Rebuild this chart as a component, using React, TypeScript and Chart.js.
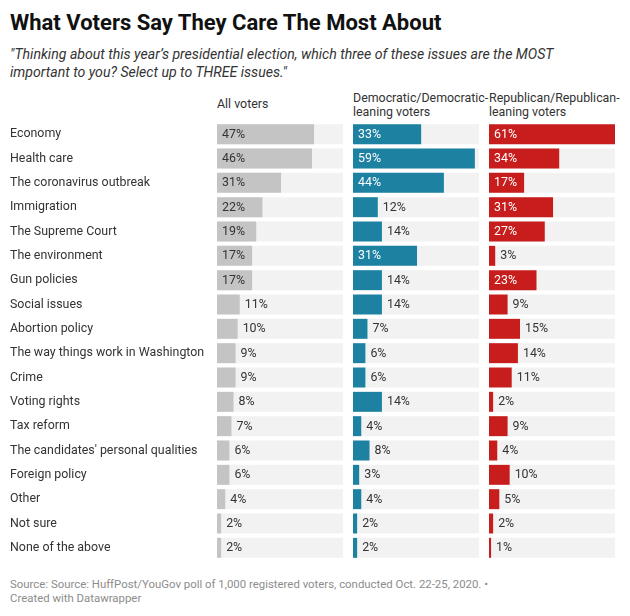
import React, { useEffect, useRef } from "react";
import { Chart, registerables } from "chart.js";

Chart.register(...registerables);

const categories = [
  "Economy",
  "Health care",
  "The coronavirus outbreak",
  "Immigration",
  "The Supreme Court",
  "The environment",
  "Gun policies",
  "Social issues",
  "Abortion policy",
  "The way things work in Washington",
  "Crime",
  "Voting rights",
  "Tax reform",
  "The candidates' personal qualities",
  "Foreign policy",
  "Other",
  "Not sure",
  "None of the above",
];

const allVoters = [47, 46, 31, 22, 19, 17, 17, 11, 10, 9, 9, 8, 7, 6, 6, 4, 2, 2];
const democratic = [33, 59, 44, 12, 14, 31, 14, 14, 7, 6, 6, 14, 4, 8, 3, 4, 2, 2];
const republican = [61, 34, 17, 31, 27, 3, 23, 9, 15, 14, 11, 2, 9, 4, 10, 5, 2, 1];

const columnTitles = [
  ["All voters"],
  ["Democratic/Democratic-", "leaning voters"],
  ["Republican/Republican-", "leaning voters"],
];

const scaleMax = 61;

const FONT = "Roboto, 'Noto Sans', sans-serif";
const LABEL_SIZE = 12.4;
const GRAY = "#c4c4c4";
const BLUE = "#1d81a2";
const RED = "#c71e1d";
const TRACK = "#f2f2f2";

function labelPlugin(values: number[], insideColor: string) {
  return {
    id: "valueLabels",
    afterDatasetsDraw(chart: any) {
      const ctx = chart.ctx;
      const meta = chart.getDatasetMeta(0);
      ctx.save();
      ctx.font = `${LABEL_SIZE}px ${FONT}`;
      ctx.textBaseline = "middle";
      ctx.textAlign = "left";
      meta.data.forEach((bar: any, i: number) => {
        const p = bar.getProps(["x", "y", "base"], true);
        const text = `${values[i]}%`;
        const w = ctx.measureText(text).width;
        const barW = p.x - p.base;
        if (barW >= w + 10) {
          ctx.fillStyle = insideColor;
          ctx.fillText(text, p.base + 5, p.y + 0.5);
        } else {
          ctx.fillStyle = "#333";
          ctx.fillText(text, p.x + 5, p.y + 0.5);
        }
      });
      ctx.restore();
    },
  };
}

function makeChart(
  canvas: HTMLCanvasElement,
  values: number[],
  color: string,
  insideColor: string,
  showCategories: boolean
) {
  return new Chart(canvas, {
    type: "bar",
    data: {
      labels: categories,
      datasets: [
        {
          data: values,
          backgroundColor: color,
          order: 0,
          grouped: false,
          barPercentage: 0.82,
          categoryPercentage: 1,
        } as any,
        {
          data: categories.map(() => scaleMax),
          backgroundColor: TRACK,
          order: 1,
          grouped: false,
          barPercentage: 0.82,
          categoryPercentage: 1,
        } as any,
      ],
    },
    options: {
      indexAxis: "y",
      animation: false,
      responsive: true,
      maintainAspectRatio: false,
      events: [],
      layout: { padding: { left: showCategories ? 2 : 0, right: 0, top: 0, bottom: 0 } },
      plugins: {
        legend: { display: false },
        tooltip: { enabled: false },
      },
      scales: {
        x: { display: false, min: 0, max: scaleMax },
        y: {
          display: showCategories,
          grid: { display: false },
          border: { display: false },
          ticks: {
            autoSkip: false,
            crossAlign: "far",
            color: "#333",
            padding: 0,
            font: { family: FONT, size: LABEL_SIZE },
          },
          afterFit: (s: any) => {
            if (showCategories) s.width = 207;
            s.paddingTop = 0;
            s.paddingBottom = 0;
          },
        },
      },
    } as any,
    plugins: [labelPlugin(values, insideColor)],
  });
}

const abs = (left: number, top: number, extra: React.CSSProperties = {}): React.CSSProperties => ({
  position: "absolute",
  left,
  top,
  ...extra,
});

export default function App() {
  const c1 = useRef<HTMLCanvasElement>(null);
  const c2 = useRef<HTMLCanvasElement>(null);
  const c3 = useRef<HTMLCanvasElement>(null);

  useEffect(() => {
    const charts = [
      makeChart(c1.current!, allVoters, GRAY, "#333", true),
      makeChart(c2.current!, democratic, BLUE, "#fff", false),
      makeChart(c3.current!, republican, RED, "#fff", false),
    ];
    return () => charts.forEach((c) => c.destroy());
  }, []);

  const headerLefts = [209, 345, 481];

  return (
    <div style={{ position: "relative", width: 614, height: 600, fontFamily: FONT, color: "#333" }}>
      <div
        style={abs(2, 4.2, {
          fontSize: 22,
          lineHeight: "22px",
          fontWeight: 700,
          color: "#111",
          whiteSpace: "nowrap",
        })}
      >
        What Voters Say They Care The Most About
      </div>
      <div
        style={abs(2, 36.6, {
          fontSize: 14.1,
          lineHeight: "18px",
          fontStyle: "italic",
          color: "#333",
          whiteSpace: "nowrap",
        })}
      >
        "Thinking about this year’s presidential election, which three of these issues are the MOST
        <br />
        important to you? Select up to THREE issues."
      </div>
      {columnTitles.map((lines, i) => (
        <div
          key={i}
          style={abs(headerLefts[i], lines.length === 1 ? 89.1 : 82.5, {
            fontSize: LABEL_SIZE,
            lineHeight: "14px",
            color: "#333",
            whiteSpace: "nowrap",
          })}
        >
          {lines.map((l, j) => (
            <div key={j}>{l}</div>
          ))}
        </div>
      ))}
      <div style={abs(0, 114, { width: 335, height: 438 })}>
        <canvas ref={c1} />
      </div>
      <div style={abs(345, 114, { width: 126, height: 438 })}>
        <canvas ref={c2} />
      </div>
      <div style={abs(481, 114, { width: 126, height: 438 })}>
        <canvas ref={c3} />
      </div>
      <div
        style={abs(2, 570.3, {
          fontSize: 11.4,
          lineHeight: "13.5px",
          color: "#8c8c8c",
          whiteSpace: "nowrap",
        })}
      >
        Source: Source: HuffPost/YouGov poll of 1,000 registered voters, conducted Oct. 22-25, 2020. •
        <br />
        Created with Datawrapper
      </div>
    </div>
  );
}
